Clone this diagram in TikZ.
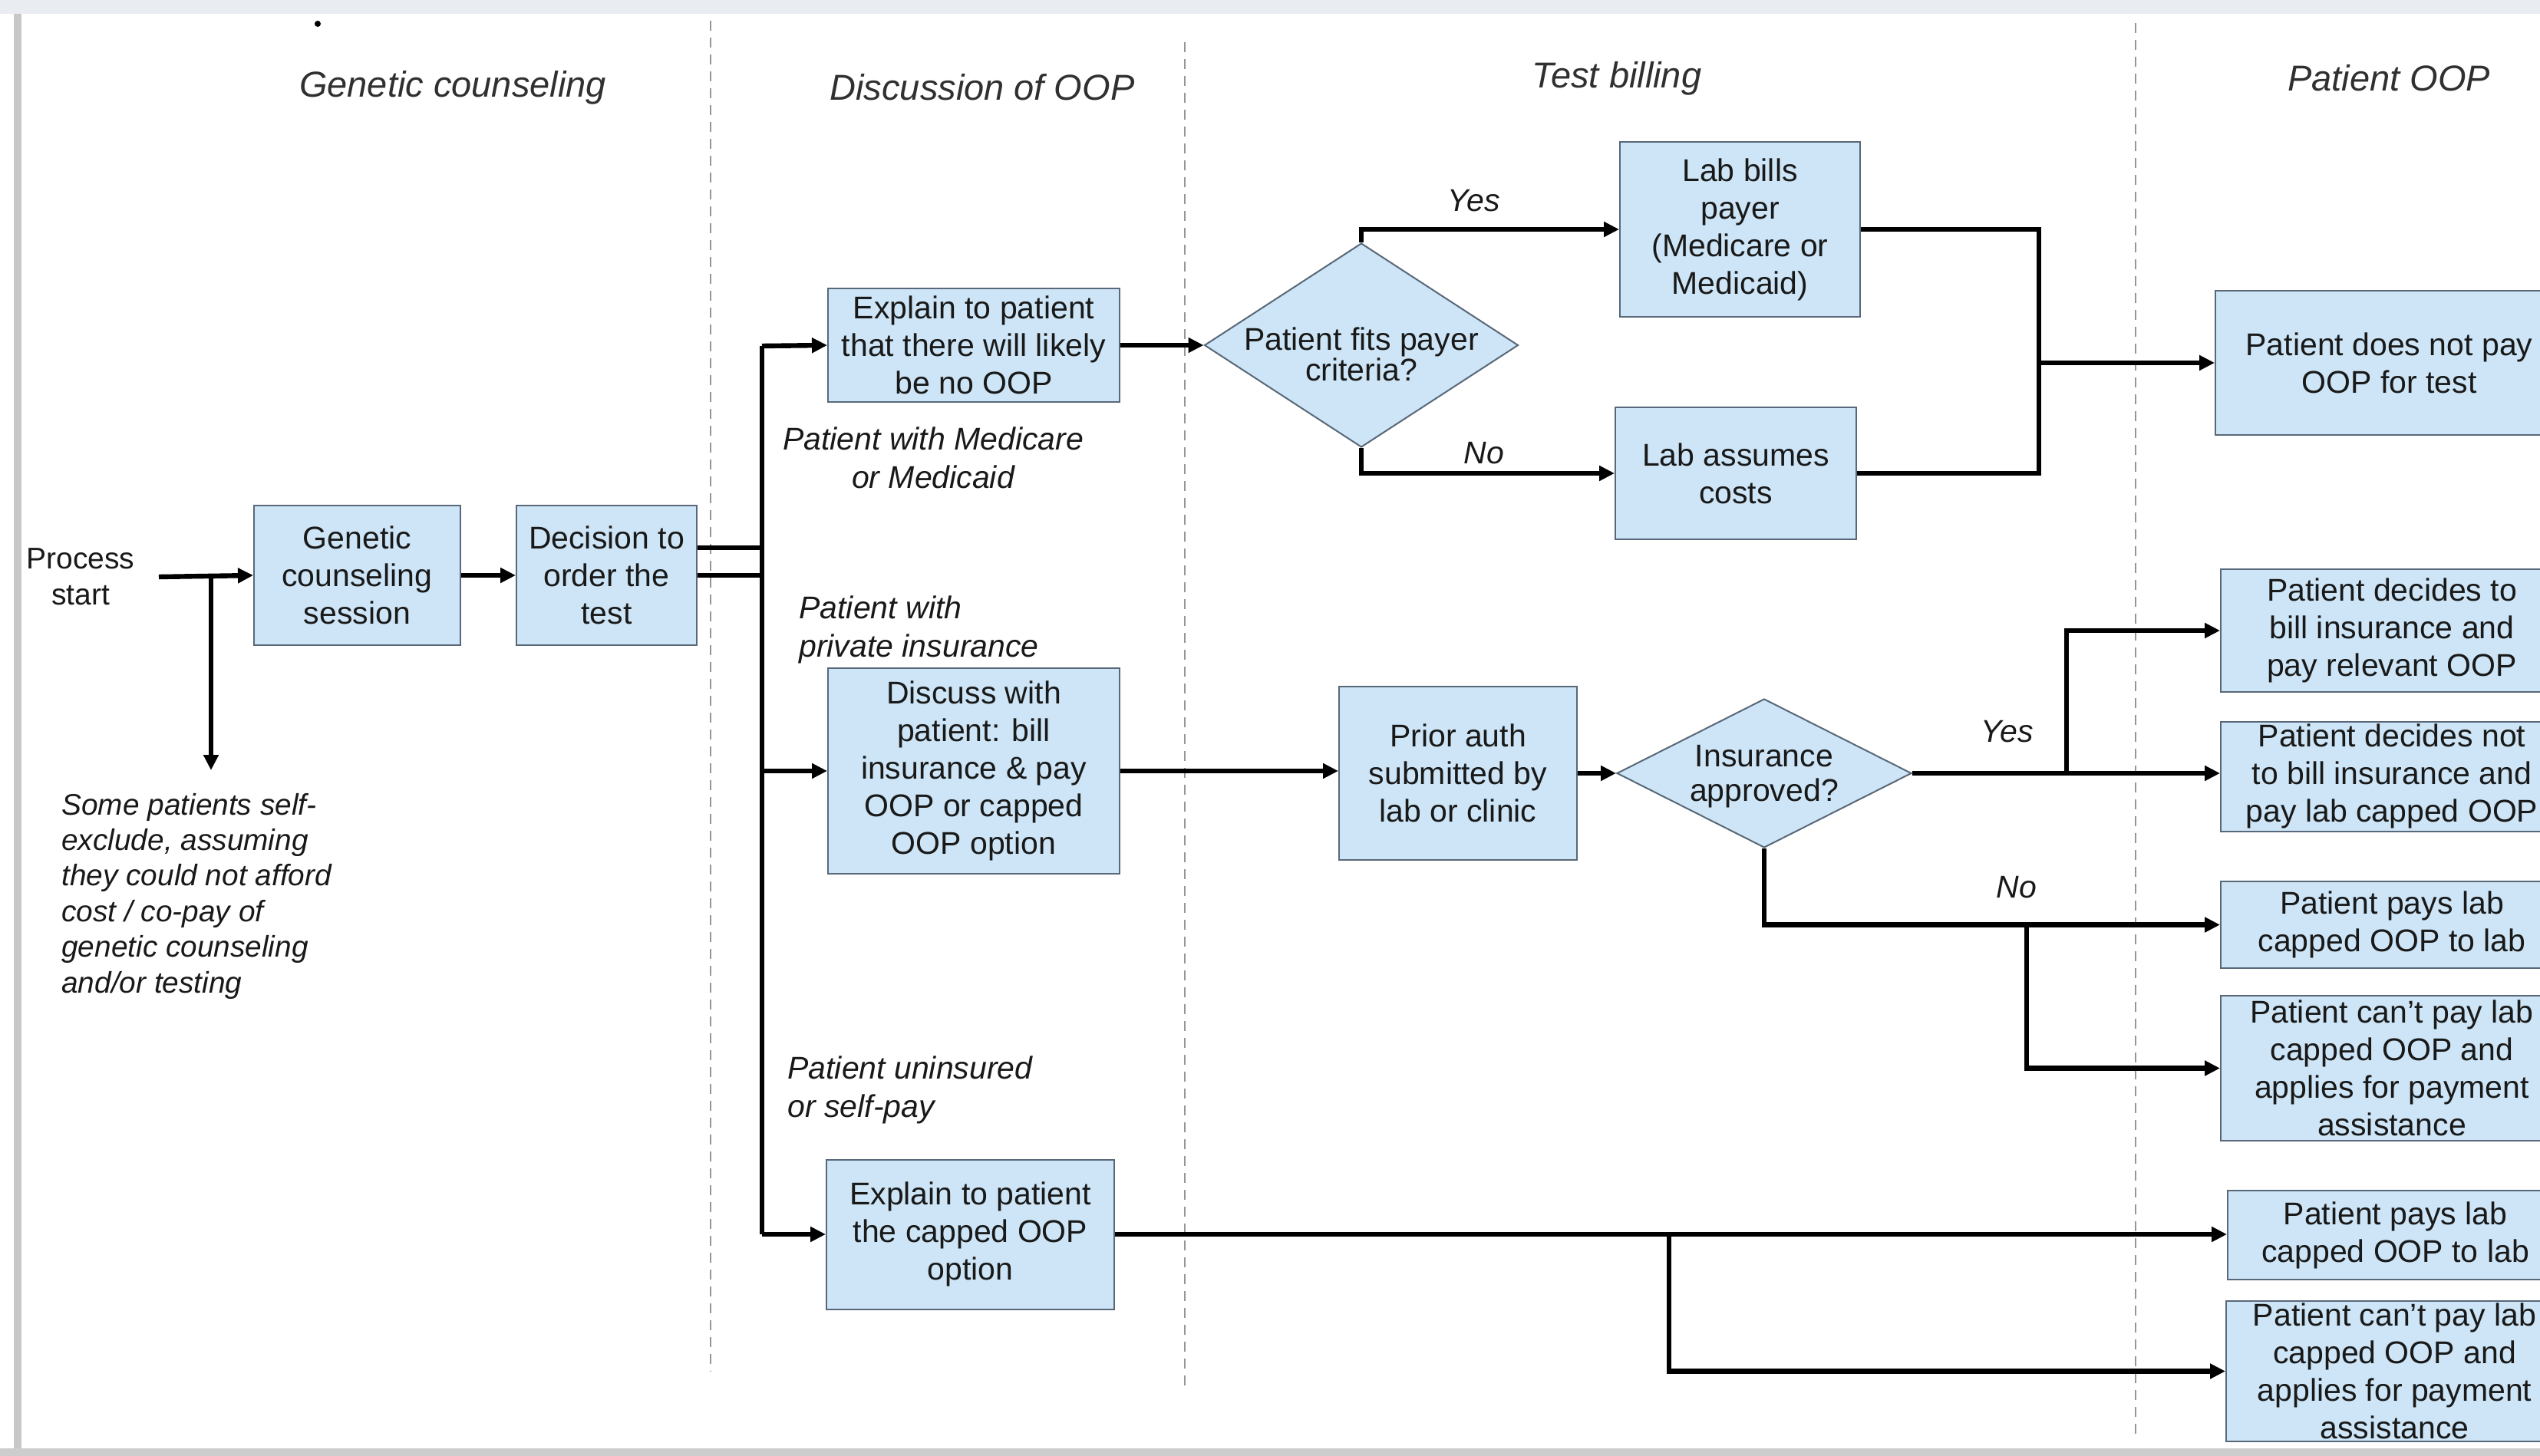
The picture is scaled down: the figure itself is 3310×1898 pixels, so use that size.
\documentclass[tikz,border=0pt]{standalone}
\usepackage{fontspec}
\setmainfont{Liberation Sans}
\usetikzlibrary{arrows.meta,shapes.geometric,calc}
\definecolor{boxfill}{RGB}{205,229,246}
\definecolor{boxdraw}{RGB}{88,104,120}
\definecolor{dashc}{RGB}{150,150,150}
\definecolor{txt}{RGB}{25,25,25}
\definecolor{topband}{RGB}{233,236,241}
\definecolor{leftband}{RGB}{200,200,200}
\definecolor{botband}{RGB}{205,205,205}
\newcommand\bxfont{\fontsize{20.5}{24.5}\selectfont}
\newcommand\ttlfont{\fontsize{23.5}{28}\selectfont\itshape}
\newcommand\lblfont{\fontsize{20.5}{25}\selectfont\itshape}
\newcommand\smlfont{\fontsize{19.4}{23.2}\selectfont\itshape}
\tikzset{
  box/.style={draw=boxdraw, fill=boxfill, line width=1pt, align=center, inner sep=0pt, font=\bxfont, text=txt},
  dia/.style={diamond, draw=boxdraw, fill=boxfill, line width=1pt, inner sep=0pt},
  dtext/.style={align=center, inner sep=0pt, text=txt},
  conn/.style={line width=3.2pt, black},
  arr/.style={conn, -{Triangle[length=10pt,width=9.5pt]}},
  ttl/.style={font=\ttlfont, text=txt!90},
  lbl/.style={font=\lblfont, text=txt},
  sep/.style={dashc, line width=1pt, dash pattern=on 6.5pt off 4.5pt},
}
\begin{document}
\begin{tikzpicture}[x=0.5pt,y=-0.5pt]
\useasboundingbox (0,0) rectangle (3310,1898);
\clip (0,0) rectangle (3310,1898);
\fill[white] (0,0) rectangle (3310,1898);
% frame
\fill[topband] (0,0) rectangle (3310,18);
\fill[leftband] (18,18) rectangle (28,1898);
\fill[botband] (0,1888) rectangle (3310,1898);
\fill[black] (414,31) circle (2pt);

% separators
\draw[sep] (926,27) -- (926,1788);
\draw[sep] (1544,55) -- (1544,1811);
\draw[sep] (2783,30) -- (2783,1876);

% titles
\node[ttl] (t1) at (590,114) {Genetic counseling};
\node[ttl] (t2) at (1280,114) {Discussion of OOP};
\node[ttl] (t3) at (2107,102) {Test billing};
\node[ttl] (t4) at (3113,102) {Patient OOP};

% left part
\node[font=\fontsize{19.5}{23.5}\selectfont, align=center, text=txt] (ps) at (105,752) {Process\\start};
\node[box, minimum width=134.5pt, minimum height=91pt] (gc) at (465.5,750) {Genetic\\counseling\\session};
\node[box, minimum width=117.5pt, minimum height=91pt] (dec) at (790.5,750) {Decision to\\order the\\test};
\node[font=\smlfont, align=left, anchor=west, inner sep=0pt, text=txt] (selfex) at (80,1168) {Some patients self-\\exclude, assuming\\they could not afford\\cost / co-pay of\\genetic counseling\\and/or testing};
\coordinate (psr) at (207,752);
\coordinate (brk) at (275,752);
\coordinate (selfend) at (275,1004);
\draw[arr] (psr) -- (gc.west);
\draw[arr] (brk) -- (selfend);
\draw[arr] (gc.east) -- (dec.west);

% bus
\coordinate (bustop) at (993,451);
\coordinate (busbot) at (993,1609);
\draw[conn] ([yshift=18pt]dec.east) -- ([yshift=18pt]dec.east -| bustop);
\draw[conn] (dec.east) -- (dec.east -| bustop);
\draw[conn] (bustop) -- (busbot);

% discussion column
\node[box, minimum width=190pt, minimum height=74pt] (ex1) at (1269,450) {Explain to patient\\that there will likely\\be no OOP};
\node[box, minimum width=190pt, minimum height=133.5pt] (disc) at (1269,1005) {Discuss with\\patient: bill\\insurance \& pay\\OOP or capped\\OOP option};
\node[box, minimum width=187.5pt, minimum height=97.5pt] (ex3) at (1264.5,1609) {Explain to patient\\the capped OOP\\option};
\node[lbl, align=center] (lmed) at (1216,597) {Patient with Medicare\\or Medicaid};
\node[lbl, align=left, anchor=west, inner sep=0pt] (lpriv) at (1041,821) {Patient with\\private insurance};
\node[lbl, align=left, anchor=west, inner sep=0pt] (lunins) at (1026,1421) {Patient uninsured\\or self-pay};
\draw[arr] (bustop) -- (ex1.west);
\draw[arr] (disc.west -| bustop) -- (disc.west);
\draw[arr] (busbot) -- (ex3.west);

% test billing column
\node[dia, minimum width=204.5pt, minimum height=133pt] (fits) at (1774,450) {};
\node[dtext, font=\fontsize{20.5}{20}\selectfont] (fitst) at (1774,462) {Patient fits payer\\criteria?};
\node[box, minimum width=156.5pt, minimum height=114pt] (bills) at (2267.5,299) {Lab bills\\payer\\(Medicare or\\Medicaid)};
\node[box, minimum width=157pt, minimum height=86pt] (assumes) at (2262,617) {Lab assumes\\costs};
\node[box, minimum width=155pt, minimum height=112.5pt] (prior) at (1900,1008) {Prior auth\\submitted by\\lab or clinic};
\node[dia, minimum width=192pt, minimum height=97pt] (ins) at (2299,1008) {};
\node[dtext, font=\fontsize{20.5}{22.5}\selectfont] (inst) at (2299,1012) {Insurance\\approved?};
\draw[arr] (ex1.east) -- (fits.west);
\draw[arr] (fits.north) |- (bills.west);
\draw[arr] (fits.south) |- (assumes.west);
\node[lbl] (yes1) at (1921,262) {Yes};
\node[lbl] (no1) at (1934,591) {No};
\draw[arr] (disc.east) -- (disc.east -| prior.west);
\draw[arr] (prior.east) -- (ins.west);

% patient OOP column
\node[box, minimum width=226.5pt, minimum height=94pt] (nopay) at (3113.5,473) {Patient does not pay\\OOP for test};
\node[box, minimum width=223pt, minimum height=80pt] (bA) at (3117,822) {Patient decides to\\bill insurance and\\pay relevant OOP};
\node[box, minimum width=223pt, minimum height=71.5pt] (bB) at (3117,1012) {Patient decides not\\to bill insurance and\\pay lab capped OOP};
\node[box, minimum width=223pt, minimum height=56.5pt] (bC) at (3117,1205.5) {Patient pays lab\\capped OOP to lab};
\node[box, minimum width=223pt, minimum height=94.5pt] (bD) at (3117,1392.5) {Patient can’t pay lab\\capped OOP and\\applies for payment\\assistance};
\node[box, minimum width=218.5pt, minimum height=58pt] (bE) at (3121.5,1610) {Patient pays lab\\capped OOP to lab};
\node[box, minimum width=219.5pt, minimum height=91.5pt] (bF) at (3120.5,1787.5) {Patient can’t pay lab\\capped OOP and\\applies for payment\\assistance};

\coordinate (merge) at (2657,473);
\draw[conn] (bills.east) -| (merge);
\draw[conn] (assumes.east) -| (merge);
\draw[arr] (merge) -- (nopay.west);

\coordinate (ybr) at (2693,1008);
\draw[arr] (ins.east) -- (ins.east -| bB.west);
\draw[arr] (ybr) |- (bA.west);
\node[lbl] (yes2) at (2616,954) {Yes};
\coordinate (nbr) at (2641,1205.5);
\draw[arr] (ins.south) |- (bC.west);
\draw[arr] (nbr) |- (bD.west);
\node[lbl] (no2) at (2628,1157) {No};

\coordinate (ubr) at (2175,1609);
\draw[arr] (ex3.east) -- (ex3.east -| bE.west);
\draw[arr] (ubr) |- (bF.west);
\end{tikzpicture}
\end{document}
